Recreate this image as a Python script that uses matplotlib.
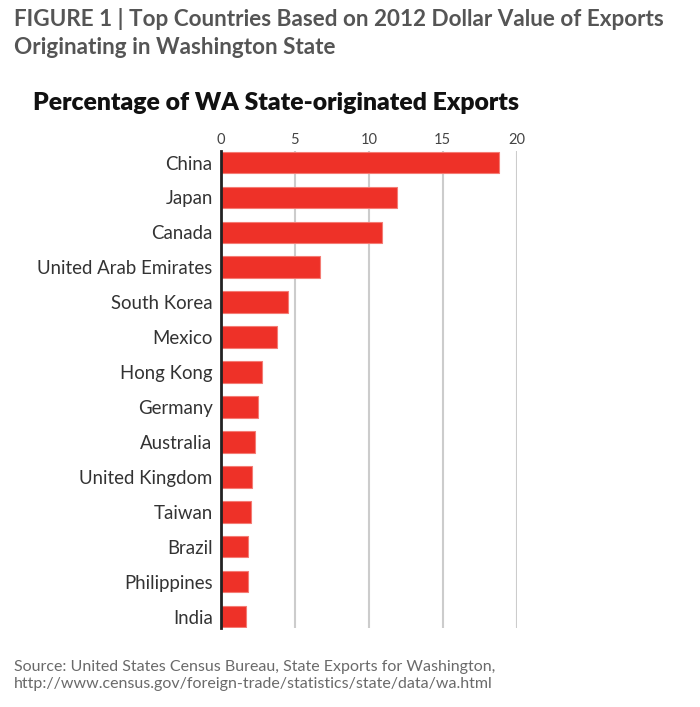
import matplotlib.pyplot as plt
import numpy as np

countries = ['China', 'Japan', 'Canada', 'United Arab Emirates', 'South Korea',
             'Mexico', 'Hong Kong', 'Germany', 'Australia', 'United Kingdom',
             'Taiwan', 'Brazil', 'Philippines', 'India']
pct = [18.8, 11.9, 10.9, 6.7, 4.5, 3.8, 2.8, 2.5, 2.3, 2.1, 2.0, 1.8, 1.8, 1.7]
xticks = [0, 5, 10, 15, 20]

title = 'FIGURE 1 | Top Countries Based on 2012 Dollar Value of Exports\nOriginating in Washington State'
subtitle = 'Percentage of WA State-originated Exports'
source = ('Source: United States Census Bureau, State Exports for Washington,\n'
          'http://www.census.gov/foreign-trade/statistics/state/data/wa.html')

plt.rcParams['font.family'] = ['Lato', 'DejaVu Sans']

fig = plt.figure(figsize=(7, 7.07), dpi=100)
ax = fig.add_axes([0.3157, 0.1117, 0.4224, 0.6747])

y = np.arange(len(countries))
ax.barh(y, pct, height=0.62, color='#ee3128', edgecolor='#f47c74', linewidth=0.8, zorder=3)

ax.set_xlim(0, 20)
ax.set_ylim(len(countries) - 1 + 0.33, -0.33)
ax.set_xticks(xticks)
ax.set_yticks(y)
ax.set_yticklabels(countries, fontsize=13.4, color='#333333')
ax.xaxis.tick_top()
ax.tick_params(axis='x', length=0, pad=3, labelsize=10.5, labelcolor='#444444')
ax.tick_params(axis='y', length=0, pad=6)
ax.grid(axis='x', color='#cccccc', linewidth=1.5, zorder=0)
for s in ['top', 'right', 'bottom']:
    ax.spines[s].set_visible(False)
ax.spines['left'].set_linewidth(2)
ax.spines['left'].set_color('#222222')
ax.spines['left'].set_zorder(4)

fig.text(0.02, 0.988, title, ha='left', va='top', fontsize=16.2, fontweight='bold',
         color='#555555', linespacing=1.4,
         family=['Liberation Sans Narrow', 'Lato', 'DejaVu Sans'])
fig.text(0.047, 0.855, subtitle, ha='left', va='center', fontsize=17.8,
         fontweight='heavy', color='#111111')
fig.text(0.02, 0.022, source, ha='left', va='bottom', fontsize=11.5,
         color='#6a6a6a', linespacing=1.3)

fig.savefig('out.png', dpi=100, facecolor='white')
